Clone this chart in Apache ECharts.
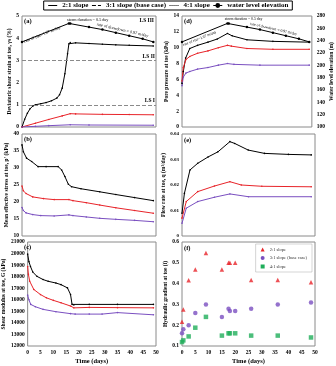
<!DOCTYPE html>
<html>
<head>
<meta charset="utf-8">
<script src="https://cdn.jsdelivr.net/npm/echarts@6/dist/echarts.min.js"></script>
<style>
  html, body { margin: 0; padding: 0; background: #fff; }
  #chart { width: 336px; height: 366px; }
</style>
</head>
<body>
<div id="chart"></div>
<script>
// [time (days), value] pairs
const strain21 = [[0,0],[1,0.35],[2,0.62],[3,0.82],[4,0.94],[5,1.0],[7,1.05],[9,1.1],[11,1.18],[13,1.3],[14,1.45],[15,1.75],[16,2.4],[17,3.3],[17.5,3.75],[18,3.8],[20,3.79],[25,3.76],[30,3.73],[35,3.7],[40,3.68],[49,3.65]];
const strain31 = [[0,0],[5,0.17],[10,0.34],[15,0.5],[18,0.6],[20,0.59],[30,0.57],[40,0.56],[49,0.55]];
const strain41 = [[0,0],[5,0.03],[10,0.06],[18,0.1],[25,0.09],[49,0.08]];
const limitStates = [['LS I', 1], ['LS II', 3], ['LS III', 5]];

const waterLevel = [[0,238],[17.5,268],[18,268],[25,262],[30,258],[35,253],[40,248],[45,243],[49,238]];

const pStress21 = [[0,36.8],[0.5,34.8],[1.7,32.9],[3.6,31.9],[6,30.4],[9,30.4],[13.5,30.4],[14.8,29.4],[16,27.5],[17.3,25.2],[18.5,24.5],[22,23.9],[29,23.0],[35,22.2],[42,21.3],[49,20.4]];
const pStress31 = [[0,24.7],[0.5,23.3],[1.5,22.5],[4,21.5],[8,21.0],[12,20.7],[17.5,20.7],[19,20.4],[24,19.8],[29,19.1],[35,18.3],[42,17.5],[49,16.7]];
const pStress41 = [[0,18.4],[0.5,17.5],[1.5,16.8],[4,16.3],[7,16.0],[12,15.9],[17.5,16.2],[19,16.0],[24,15.6],[29,15.2],[35,14.9],[42,14.6],[49,14.2]];

const shearMod21 = [[0,19950],[0.5,19300],[1.1,18880],[2,18400],[3.6,18030],[6,17750],[8,17600],[11,17450],[13,17310],[15.5,17030],[16.7,16460],[17.3,15600],[18,15550],[24,15600],[35,15600],[49,15600]];
const shearMod31 = [[0,18880],[0.3,18200],[0.8,17600],[2.4,16890],[5,16450],[7.3,16170],[10,15950],[13,15740],[16.7,15460],[18,15300],[24,15340],[35,15320],[49,15300]];
const shearMod41 = [[0,16400],[0.5,16000],[1.2,15600],[3,15400],[6,15170],[11,14970],[16.7,14800],[18.5,14760],[24,14760],[29,14760],[35,14890],[49,14700]];

const porePr21 = [[0,5.5],[0.5,7.0],[1.4,8.7],[3,9.9],[6,10.3],[10,10.7],[13.6,11.1],[17.5,11.8],[19.3,11.5],[25,11.0],[35,10.8],[49,10.7]];
const porePr31 = [[0,5.8],[0.5,7.5],[1.5,8.5],[3,8.9],[6,9.3],[10,9.6],[14,10.0],[17.5,10.3],[19,10.2],[25,9.9],[35,9.8],[49,9.8]];
const porePr41 = [[0,5.2],[0.5,6.3],[1.5,6.8],[3,7.0],[6,7.3],[10,7.5],[14,7.8],[17.5,8.0],[20,7.9],[30,7.8],[49,7.8]];

const flow21 = [[0,0.0089],[0.9,0.0167],[3,0.0259],[5.9,0.0285],[9.8,0.031],[13.5,0.033],[18,0.037],[19.8,0.0363],[24.9,0.0337],[31,0.0324],[40,0.032],[48.6,0.0318]];
const flow31 = [[0,0.007],[1.6,0.0135],[5.9,0.0174],[12.2,0.0196],[18,0.0213],[22.3,0.0200],[30,0.0195],[48.6,0.0193]];
const flow41 = [[0,0.005],[1.6,0.0109],[5.9,0.0135],[12.2,0.0152],[18,0.0165],[25,0.0154],[48.6,0.0154]];

const gradDays = [0, 0.5, 2.5, 5, 9, 15, 17.5, 18, 20, 26, 36, 48.5];
const grad21 = [0.216, 0.275, 0.416, 0.468, 0.547, 0.468, 0.5, 0.5, 0.5, 0.417, 0.417, 0.406];
const grad31 = [0.161, 0.18, 0.2, 0.259, 0.3, 0.24, 0.279, 0.268, 0.268, 0.279, 0.3, 0.309];
const grad41 = [0.119, 0.127, 0.146, 0.188, 0.24, 0.15, 0.161, 0.161, 0.161, 0.15, 0.15, 0.141];

const S21 = '2:1 slope', S31 = '3:1 slope (base case)', S41 = '4:1 slope', WL = 'water level elevation';
const BLACK = '#000', RED = '#e8242a', PURPLE = '#7a4fc0', GREEN = '#1fae5a';
const FONT = 'Liberation Serif';

const tickText = { fontFamily: FONT, fontWeight: 'bold', fontSize: 5.5, color: '#000', margin: 3 };
const nameText = { fontFamily: FONT, fontWeight: 'bold', fontSize: 5.5, color: '#000' };

const grids = [
  { left: 22, top: 16, width: 134, height: 111 },   // (a)
  { left: 22, top: 134, width: 134, height: 102 },  // (b)
  { left: 22, top: 242, width: 134, height: 105 },  // (c)
  { left: 182, top: 16, width: 133, height: 111 },  // (d)
  { left: 182, top: 134, width: 133, height: 102 }, // (e)
  { left: 182, top: 242, width: 133, height: 106 }  // (f)
].map(g => ({ ...g, show: true, borderColor: '#8a8a8a', borderWidth: 1 }));

function xAxis(gridIndex, labelled) {
  return {
    type: 'value', gridIndex, min: 0, max: 50, interval: 5,
    axisLine: { show: false }, axisTick: { show: false }, splitLine: { show: false },
    axisLabel: labelled ? { ...tickText, margin: 4 } : { show: false },
    name: labelled ? 'Time (days)' : '', nameLocation: 'middle', nameGap: 12,
    nameTextStyle: { ...nameText, fontSize: 6.5 }
  };
}

function yAxis(gridIndex, min, max, interval, name, nameGap, extra) {
  return {
    type: 'value', gridIndex, min, max, interval,
    axisLine: { show: false }, axisTick: { show: false }, splitLine: { show: false },
    axisLabel: { ...tickText, formatter: v => String(v) },
    name, nameLocation: 'middle', nameGap, nameTextStyle: nameText,
    ...extra
  };
}

function line(name, color, axis, data, extra) {
  return {
    type: 'line', name, data, xAxisIndex: axis[0], yAxisIndex: axis[1],
    symbol: 'circle', symbolSize: 1.6, showSymbol: true,
    lineStyle: { color, width: 1 }, itemStyle: { color },
    animation: false, ...extra
  };
}

function scatter(name, color, symbol, values) {
  return {
    type: 'scatter', name, xAxisIndex: 5, yAxisIndex: 7, symbol, symbolSize: 4.5,
    itemStyle: { color }, data: gradDays.map((d, i) => [d, values[i]]), animation: false
  };
}

function waterNotes(size, pts) {
  return {
    symbol: 'circle', symbolSize: 0, silent: true,
    label: { show: true, position: 'inside', fontFamily: FONT, fontSize: size, color: '#000' },
    data: pts.map(p => ({ coord: [p[0], p[1]], label: { rotate: p[2], formatter: p[3] } }))
  };
}

const option = {
  backgroundColor: '#fff',
  animation: false,
  legend: [
    {
      top: 1, left: 'center', itemWidth: 9, itemHeight: 6, itemGap: 3,
      borderColor: '#000', borderWidth: 1, padding: [1, 4],
      textStyle: { fontFamily: FONT, fontWeight: 'bold', fontSize: 7, color: '#000' },
      data: [
        { name: S21, itemStyle: { opacity: 0 }, lineStyle: { color: BLACK, type: 'solid', width: 1 } },
        { name: S31, itemStyle: { opacity: 0 }, lineStyle: { color: BLACK, type: 'dashed', width: 1 } },
        { name: S41, itemStyle: { opacity: 0 }, lineStyle: { color: BLACK, type: 'dotted', width: 1 } },
        { name: WL, itemStyle: { color: BLACK }, lineStyle: { color: BLACK, width: 1 } }
      ]
    },
    {
      orient: 'vertical', right: 24, top: 244, itemWidth: 4, itemHeight: 4, itemGap: 3.5,
      borderColor: '#aaa', borderWidth: 0.5, padding: [3, 5],
      textStyle: { fontFamily: FONT, fontSize: 4.5, color: '#333' },
      data: [
        { name: S21, icon: 'triangle', itemStyle: { color: RED, opacity: 1 } },
        { name: S31, icon: 'circle', itemStyle: { color: PURPLE, opacity: 1 } },
        { name: S41, icon: 'rect', itemStyle: { color: GREEN, opacity: 1 } }
      ]
    }
  ],
  grid: grids,
  xAxis: [xAxis(0, false), xAxis(1, false), xAxis(2, true), xAxis(3, false), xAxis(4, false), xAxis(5, true)],
  yAxis: [
    yAxis(0, 0, 5, 1, 'Deviatoric shear strain at toe, γs (%)', 9),
    { type: 'value', gridIndex: 0, min: 100, max: 280, show: false },
    yAxis(1, 10, 40, 5, "Mean effective stress at toe, p' (kPa)", 11),
    yAxis(2, 12000, 21000, 1000, 'Shear modulus at toe, G (kPa)', 16),
    yAxis(3, 0, 14, 2, 'Pore pressure at toe (kPa)', 11),
    yAxis(3, 100, 280, 20, 'Water level elevation (m)', 15, { position: 'right', nameRotate: 90, axisLabel: { ...tickText, margin: 5 } }),
    yAxis(4, 0, 0.04, 0.01, 'Flow rate at toe, q (m³/day)', 12, { axisLabel: { ...tickText, fontSize: 5, formatter: v => v === 0 ? '0' : v.toFixed(2) } }),
    yAxis(5, 0.1, 0.6, 0.1, 'Hydraulic gradient at toe (i)', 11, { axisLabel: { ...tickText, formatter: v => v.toFixed(1) } })
  ],
  series: [
    // (a)
    line(S21, BLACK, [0, 0], strain21, {
      markLine: {
        symbol: 'none', silent: true,
        lineStyle: { color: '#8a8a8a', type: 'dashed', width: 1 },
        label: { position: 'insideEndTop', distance: 1, fontFamily: FONT, fontWeight: 'bold', fontSize: 5.5, color: '#000', formatter: p => p.name },
        data: limitStates.map(([n, v]) => n === 'LS III'
          ? { name: n, yAxis: v, lineStyle: { color: 'rgba(0,0,0,0)' }, label: { position: 'insideEndBottom', distance: 2 } }
          : { name: n, yAxis: v })
      }
    }),
    line(S31, RED, [0, 0], strain31),
    line(S41, PURPLE, [0, 0], strain41),
    line(WL, BLACK, [0, 1], waterLevel, {
      symbolSize: 2.5,
      markPoint: waterNotes(4.2, [
        [7.6, 250, 21.7, 'rate of rise=1.67 m/day'],
        [24.5, 274.5, 0, 'storm duration = 0.5 day'],
        [37.5, 257, -12.9, 'rate of drawdown = 0.97 m/day']
      ])
    }),
    // (b)
    line(S21, BLACK, [1, 2], pStress21),
    line(S31, RED, [1, 2], pStress31),
    line(S41, PURPLE, [1, 2], pStress41),
    // (c)
    line(S21, BLACK, [2, 3], shearMod21),
    line(S31, RED, [2, 3], shearMod31),
    line(S41, PURPLE, [2, 3], shearMod41),
    // (d)
    line(S21, BLACK, [3, 4], porePr21),
    line(S31, RED, [3, 4], porePr31),
    line(S41, PURPLE, [3, 4], porePr41),
    line(WL, BLACK, [3, 5], waterLevel, {
      symbolSize: 2.5,
      markPoint: waterNotes(3.8, [
        [6.8, 243.5, 21.8, 'rate of rise=1.67 m/day'],
        [23.7, 275, 0, 'storm duration = 0.5 day'],
        [35.3, 259, -12.8, 'rate of drawdown = 0.97 m/day']
      ])
    }),
    // (e)
    line(S21, BLACK, [4, 6], flow21),
    line(S31, RED, [4, 6], flow31),
    line(S41, PURPLE, [4, 6], flow41),
    // (f)
    scatter(S21, RED, 'triangle', grad21),
    scatter(S31, PURPLE, 'circle', grad31),
    scatter(S41, GREEN, 'rect', grad41)
  ],
  graphic: [
    ['(a)', 24, 18], ['(b)', 24, 136], ['(c)', 24, 244],
    ['(d)', 184, 18], ['(e)', 184, 137], ['(f)', 184, 245]
  ].map(([t, x, y]) => ({
    type: 'text', left: x, top: y, silent: true,
    style: { text: t, font: 'bold 6.5px "Liberation Serif"', fill: '#000' }
  }))
};

const chart = echarts.init(document.getElementById('chart'), null, { renderer: 'canvas' });
chart.setOption(option);
</script>
</body>
</html>
